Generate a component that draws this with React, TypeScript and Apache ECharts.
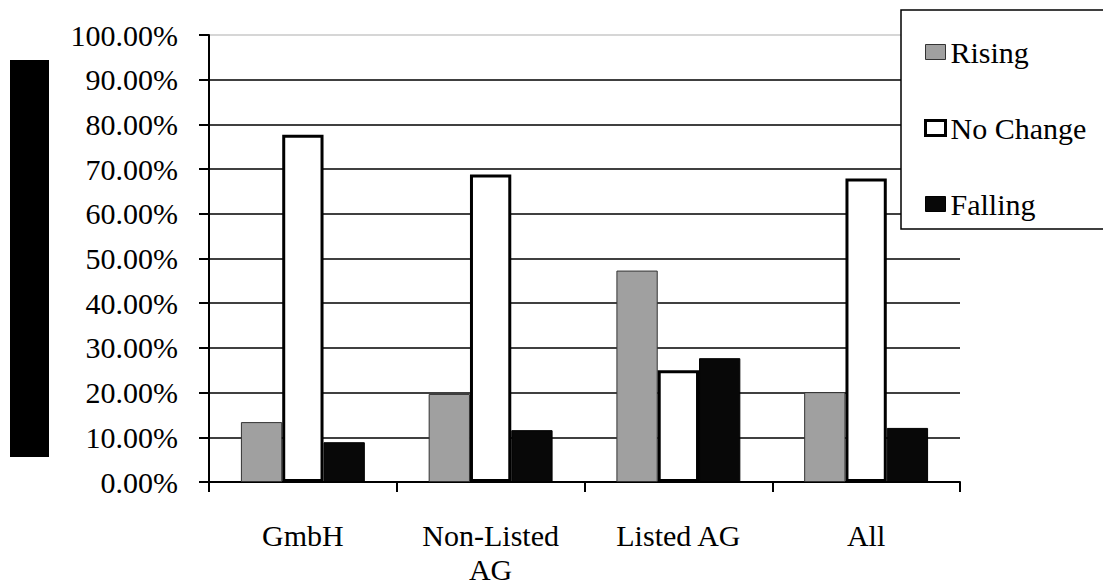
import React, { useEffect, useRef } from "react";
import * as echarts from "echarts";

const categories = ["GmbH", "Non-Listed\nAG", "Listed AG", "All"];
const rising = [13.4, 19.7, 47.3, 20.1];
const noChange = [77.7, 68.8, 25.0, 67.9];
const falling = [8.9, 11.6, 27.7, 12.1];
const seriesNames = ["Rising", "No Change", "Falling"];

const FONT = "Liberation Serif";

export default function App() {
  const ref = useRef<HTMLDivElement>(null);
  useEffect(() => {
    if (!ref.current) return;
    const chart = echarts.init(ref.current, undefined, { renderer: "svg" });
    const gridColors = [
      "#000", "#000", "#000", "#000", "#000", "#000",
      "#000", "#000", "#000", "#000", "#c8c8c8",
    ];
    const styles = [
      { color: "#a0a0a0", borderColor: "#333", borderWidth: 1 },
      { color: "#ffffff", borderColor: "#000", borderWidth: 3 },
      { color: "#080808", borderColor: "#000", borderWidth: 1 },
    ];
    const datas = [rising, noChange, falling];
    chart.setOption({
      animation: false,
      backgroundColor: "#fff",
      grid: {
        left: 209,
        right: 151,
        top: 35,
        bottom: 106,
        containLabel: false,
        outerBoundsMode: "none",
      },
      xAxis: {
        type: "category",
        data: categories,
        axisLine: { show: true, lineStyle: { color: "#000", width: 2 } },
        axisTick: { show: true, length: 10, lineStyle: { color: "#000", width: 2 } },
        axisLabel: {
          color: "#000",
          fontFamily: FONT,
          fontSize: 30,
          lineHeight: 34,
          margin: 36,
          interval: 0,
        },
      },
      yAxis: {
        type: "value",
        min: 0,
        max: 100,
        interval: 10,
        axisLine: { show: true, lineStyle: { color: "#000", width: 2 } },
        axisTick: { show: true, length: 10, lineStyle: { color: "#000", width: 2 } },
        splitLine: { show: true, lineStyle: { color: gridColors, width: 1.5 } },
        axisLabel: {
          color: "#000",
          fontFamily: FONT,
          fontSize: 30,
          margin: 31,
          formatter: (v: number) => `${v.toFixed(2)}%`,
        },
      },
      legend: {
        orient: "vertical",
        left: 924,
        top: 37,
        padding: 0,
        itemWidth: 20,
        itemHeight: 15,
        itemGap: 46,
        icon: "rect",
        textStyle: { color: "#000", fontFamily: FONT, fontSize: 30, lineHeight: 30 },
        data: seriesNames.map((n, i) => ({ name: n, itemStyle: styles[i] })),
        z: 10,
      },
      graphic: [
        {
          type: "rect",
          shape: { x: 901, y: 10, width: 230, height: 219 },
          style: { fill: "#fff", stroke: "#000", lineWidth: 1.5 },
          z: 5,
        },
        {
          type: "rect",
          shape: { x: 10, y: 60, width: 39, height: 397 },
          style: { fill: "#000" },
        },
      ],
      series: seriesNames.map((n, i) => ({
        name: n,
        type: "bar",
        data: datas[i],
        barGap: "0%",
        barCategoryGap: "34%",
        itemStyle: styles[i],
        emphasis: { disabled: true },
      })),
    });
    return () => chart.dispose();
  }, []);
  return <div ref={ref} style={{ width: 1111, height: 588, margin: -8 }} />;
}
